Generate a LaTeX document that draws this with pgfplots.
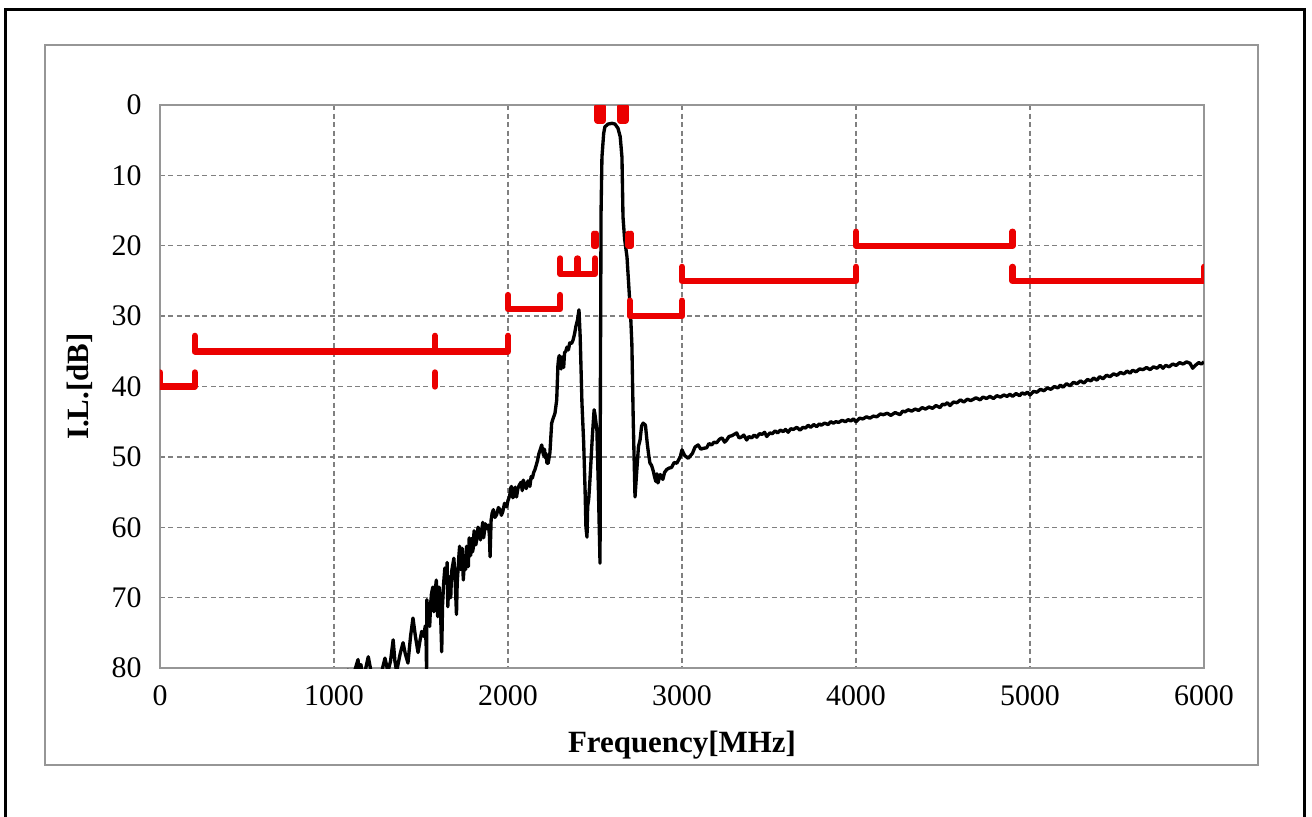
\documentclass[border=0pt]{standalone}
\usepackage{pgfplots}
\pgfplotsset{compat=1.18}
\usepackage{fontspec}
\setmainfont{Liberation Serif}
\definecolor{maskred}{RGB}{235,0,0}
\definecolor{gridgray}{RGB}{128,128,128}
\definecolor{boxgray}{RGB}{150,150,150}

\begin{document}
\begin{tikzpicture}
% page frame (1 px = 0.1 mm)
\clip (-16mm,-14.8mm) rectangle (115.2mm,66.8mm);
\fill[white] (-16mm,-14.8mm) rectangle (115.2mm,66.8mm);
\draw[line width=0.3mm] (-15.4mm,-20mm) rectangle (114.5mm,65.9mm);
\draw[boxgray, line width=0.25mm] (-11.5mm,-9.7mm) rectangle (109.8mm,62.3mm);
\begin{axis}[
    at={(0,0)}, anchor=south west,
    scale only axis,
    width=104.4mm, height=56.3mm,
    xmin=0, xmax=6000, ymin=0, ymax=80,
    y dir=reverse,
    xtick={0,1000,...,6000},
    ytick={0,10,...,80},
    grid=major,
    major grid style={gridgray, dash pattern=on 0.5mm off 0.35mm, line width=0.4pt},
    axis line style={boxgray, line width=0.6pt},
    major tick length=0pt,
    tick label style={font=\fontsize{8.5}{10}\selectfont},
    /pgf/number format/assume math mode=true,
    scaled x ticks=false,
    x tick label style={/pgf/number format/1000 sep={}, yshift=-0.5mm},
    y tick label style={xshift=-0.6mm},
    xlabel={\textbf{Frequency[MHz]}},
    ylabel={\textbf{I.L.[dB]}},
    xlabel style={at={(axis description cs:0.5,-0.137)}, anchor=center, font=\fontsize{8.8}{11}\selectfont},
    ylabel style={at={(axis description cs:-0.0766,0.5)}, anchor=center, font=\fontsize{8.8}{11}\selectfont},
    unbounded coords=jump,
]
% measured insertion loss
\addplot[black, line width=0.95pt, line join=round] coordinates {
(1040,84) (1080,80.3) (1100,82) (1138,78.8) (1146,81) (1155,79.5) (1165,82) (1197,78.4)
(1213,80.5) (1250,83) (1293,78.6) (1310,80.5) (1325,79) (1340,76) (1350,79) (1360,80.5) (1380,78)
(1397,76.4) (1410,78) (1425,79.3) (1440,75.5) (1454,72.9) (1468,75.5) (1483,77.8)
(1495,76) (1504,74.8) (1515,75.5) (1525,74) (1530,77) (1532,80.5) (1534,70.3) (1540,72.5) (1545,71.5)
(1550,74.1) (1555,71) (1560,69.5) (1568,68.5) (1574,72) (1580,69.5) (1588,67.5) (1596,72.7) (1604,68.5) (1610,70) (1619,77.7)
(1624,71) (1630,68) (1637,65.8) (1645,68) (1650,65) (1654,71.3) (1660,68) (1665,67) (1671,70) (1676,66.3) (1689,64.4)
(1697,68) (1704,72.4) (1708,68) (1713,66) (1718,64) (1722,62.7) (1728,66) (1733,65) (1738,63) (1743,67.5) (1752,64)
(1757,66) (1762,62.7) (1767,64.5) (1772,65.6) (1777,61.5) (1781,62.5) (1786,64) (1790,61.6) (1796,63.5) (1800,63) (1805,60.5) (1810,61)
(1815,62.5) (1820,61.8) (1828,60) (1835,60.5) (1842,61.8) (1849,60.4) (1855,59.3) (1860,61.5) (1870,59.5) (1880,60.2) (1887,59.7)
(1893,61) (1897,64.2) (1903,59) (1909,58) (1916,57.5) (1925,58.6) (1935,58.2) (1945,57.2) (1954,57.5)
(1962,58.3) (1970,57.8) (1980,56.6) (1992,57.1) (2000,56.2) (2010,55.5) (2015,54.5) (2020,54.2) (2028,55.8) (2035,55.5) (2042,54.3) (2049,55.7)
(2057,54.5) (2065,54) (2075,53.6) (2082,54.8) (2088,53.3) (2096,53.9) (2105,54.5) (2115,53.4) (2126,54.2) (2133,52.8) (2140,53) (2148,52.2) (2155,51.8)
(2162,51.2) (2170,50.5) (2177,49.6) (2185,49) (2194,48.3) (2200,49.3) (2205,49.8) (2210,48.9) (2213,50.1) (2218,49.5) (2224,50.9)
(2231,50.9) (2241,49.4) (2251,45.2) (2260,44.5) (2270,43.8) (2280,41.9) (2287,37)
(2291,36) (2295,35.6) (2300,37.2) (2305,37.5) (2310,35.8) (2316,36.2) (2320,37.3) (2325,35.2) (2332,35) (2339,34.4) (2347,34.8) (2355,33.8)
(2365,33.9) (2374,33.4) (2382,32.6) (2390,31.5) (2400,30.5) (2408,29.1) (2415,33) (2425,42.3) (2435,48)
(2443,54.7) (2448,60) (2454,61.4) (2458,57) (2464,56) (2471,53.3)
(2485,47) (2495,43.3) (2500,44) (2511,46.2) (2520,55) (2529,65.1)
(2531,40) (2535,15) (2540,7.4) (2550,4) (2557,3.1) (2575,2.7) (2598,2.6)
(2615,2.7) (2632,3.3) (2645,4.5) (2655,7.4) (2661,15.9) (2670,19)
(2684,21.6) (2695,26) (2705,30) (2712,34) (2720,45) (2730,55.7) (2740,52)
(2750,48.5) (2759,47.6) (2768,45.6) (2777,45.2) (2790,45.5) (2800,48) (2808,49.6) (2816,50.9)
(2825,51.2) (2835,52) (2842,52.8) (2850,53.5) (2856,52.4) (2862,53.7) (2875,52.5) (2890,53.2) (2900,52.2) (2912,51.8)
(2925,51.6) (2940,51.5) (2955,50.8) (2970,50.9) (2990,50) (3000,49.0) (3015,49.8) (3036,50.2)
(3060,49.5) (3075,48.6) (3093,48.3) (3108,48.9) (3120,48.8) (3142,48.7) (3155,48.1) (3170,48.3) (3185,47.9) (3199,48.0)
(3215,47.5) (3230,47.3) (3245,47.9) (3257,47.6) (3270,47.1) (3285,47) (3300,46.8) (3314,46.6) (3328,47.3) (3340,47.2) (3355,46.9) (3372,47.6)
(3385,47.1) (3400,47.3) (3415,46.9) (3430,47.2) (3445,46.7) (3460,46.8) (3475,46.5) (3487,47.1) (3505,46.6) (3520,46.7) (3535,46.3) (3550,46.6)
(3565,46.2) (3582,46.4) (3595,46.1) (3610,46.5) (3625,46.0) (3640,46.1) (3660,45.8) (3678,46.2) (3695,45.8) (3710,45.9) (3725,45.5) (3740,45.8)
(3757,45.4) (3774,45.7) (3790,45.3) (3800,45.5) (3820,45.2) (3840,45.4) (3855,45.0) (3870,45.2) (3885,45.0) (3900,45.1) (3920,44.8) (3940,45.0)
(3955,44.7) (3970,44.9) (3985,44.6) (4000,45.0) (4020,44.5) (4040,44.6) (4060,44.3) (4080,44.5) (4100,44.2) (4120,44.3) (4140,43.9) (4157,44.0)
(4180,43.8) (4200,44.1) (4225,43.7) (4253,44.0) (4268,43.5) (4282,43.6) (4300,43.3) (4320,43.5) (4340,43.2) (4360,43.4) (4380,43.0) (4400,43.2)
(4420,42.9) (4440,43.1) (4460,42.7) (4483,43.0) (4497,42.5) (4510,42.6) (4525,42.3) (4540,42.7) (4560,42.2) (4580,42.3) (4600,41.9) (4620,42.2)
(4640,41.8) (4660,42.0) (4690,41.6) (4713,41.9) (4730,41.5) (4750,41.7) (4770,41.4) (4790,41.7) (4810,41.3) (4830,41.5) (4850,41.2) (4868,41.4)
(4885,41.1) (4900,41.4) (4920,41.0) (4940,41.3) (4955,40.9) (4970,41.1) (4985,40.8) (5000,41.2) (5020,40.7) (5040,40.8) (5060,40.4) (5080,40.6)
(5100,40.2) (5120,40.4) (5140,40.0) (5160,40.2) (5175,39.8) (5190,40.1) (5210,39.6) (5230,39.9) (5250,39.4) (5270,39.6) (5290,39.2) (5310,39.5)
(5330,39.0) (5350,39.2) (5365,38.8) (5385,39.1) (5400,38.6) (5420,38.9) (5440,38.4) (5460,38.6) (5480,38.2) (5500,38.4) (5520,38.0) (5540,38.2)
(5558,37.8) (5575,38.1) (5590,37.7) (5610,37.9) (5630,37.5) (5650,37.6) (5670,37.3) (5690,37.6) (5710,37.2) (5730,37.4) (5748,37.0) (5764,37.4)
(5780,37.0) (5800,37.2) (5820,36.8) (5840,37.0) (5860,36.6) (5880,36.8) (5900,36.5) (5920,36.7) (5935,37.4) (5950,37.0)
(5970,36.6) (5985,36.8) (6000,36.5)
};
% spec mask
\addplot[maskred, line width=1.8pt, line cap=round, line join=round] coordinates {
(0,38) (0,40) (200,40) (200,38) (200,nan)
(200,32.8) (200,35) (1580,35) (1580,32.8) (1580,35) (2000,35) (2000,32.8) (2000,nan)
(1580,38) (1580,40) (1580,nan)
(2000,27) (2000,29) (2300,29) (2300,27) (2300,nan)
(2300,21.8) (2300,24) (2400,24) (2400,21.8) (2400,24) (2500,24) (2500,21.8) (2500,nan)
(2493,18.3) (2493,20) (2507,20) (2507,18.3) (2507,nan)
(2693,18.3) (2693,20) (2707,20) (2707,18.3) (2707,nan)
(2515,0.2) (2515,2.2) (2545,2.2) (2545,0.2) (2545,nan)
(2645,0.2) (2645,2.2) (2675,2.2) (2675,0.2) (2675,nan)
(2700,27.8) (2700,30) (3000,30) (3000,27.8) (3000,nan)
(3000,23) (3000,25) (4000,25) (4000,23) (4000,nan)
(4000,18) (4000,20) (4900,20) (4900,18) (4900,nan)
(4900,23) (4900,25) (6000,25) (6000,23)
};
\end{axis}
\end{tikzpicture}
\end{document}
